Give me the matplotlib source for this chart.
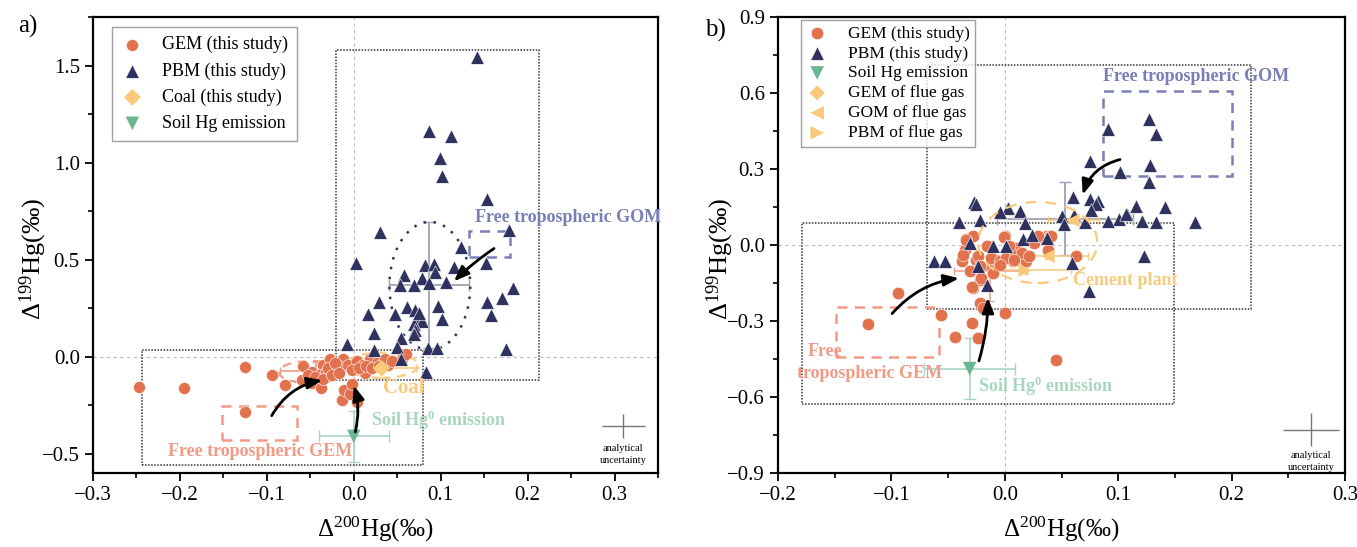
import matplotlib
matplotlib.use("Agg")
import matplotlib.pyplot as plt
from matplotlib.patches import Rectangle, Ellipse
from matplotlib.ticker import MultipleLocator

plt.rcParams['font.family'] = ['Liberation Serif', 'DejaVu Serif']
plt.rcParams['mathtext.fontset'] = 'custom'
plt.rcParams['mathtext.rm'] = 'Liberation Serif'
plt.rcParams['mathtext.it'] = 'Liberation Serif:italic'
plt.rcParams['mathtext.bf'] = 'Liberation Serif:bold'
plt.rcParams['axes.unicode_minus'] = True

# ---------------- data: panel a ----------------
gem_a_x = [-0.247, -0.195, -0.125, -0.125, -0.094, -0.079, -0.058, -0.060, -0.048, -0.038,
           -0.035, -0.027, -0.025, -0.014, -0.011, -0.004, 0.004, -0.002, -0.012, -0.017,
           -0.007, 0.004, 0.011, 0.013, 0.019, 0.027, 0.034, 0.039, 0.055, 0.060,
           -0.048, -0.040, -0.032, -0.053, -0.045, -0.030, -0.022, -0.035, -0.025, -0.017,
           -0.002, 0.006, 0.014, 0.021, 0.029, 0.036, 0.044]
gem_a_y = [-0.158, -0.163, -0.056, -0.287, -0.093, -0.145, -0.050, -0.122, -0.136, -0.163,
           -0.041, -0.014, -0.068, -0.224, -0.172, -0.194, -0.235, -0.140, -0.014, -0.050,
           -0.041, -0.023, -0.041, -0.086, -0.014, -0.032, -0.032, -0.041, -0.014, 0.013,
           -0.077, -0.095, -0.077, -0.095, -0.104, -0.059, -0.032, -0.113, -0.095, -0.086,
           -0.068, -0.059, -0.050, -0.059, -0.050, -0.014, -0.023]
pbm_a_x = [0.142, 0.087, 0.112, 0.099, 0.102, 0.153, 0.030, 0.179, 0.123, 0.002,
           0.082, 0.092, 0.152, 0.115, 0.094, 0.058, 0.078, 0.087, 0.106, 0.053,
           0.069, 0.183, 0.170, 0.153, 0.029, 0.097, 0.061, 0.070, 0.016, 0.047,
           0.158, 0.102, 0.073, 0.079, 0.069, 0.071, 0.023, 0.069, 0.054, -0.008,
           0.023, 0.050, 0.085, 0.096, 0.175, 0.054, 0.083, 0.075]
pbm_a_y = [1.545, 1.163, 1.136, 1.021, 0.932, 0.814, 0.640, 0.654, 0.566, 0.484,
           0.473, 0.475, 0.484, 0.464, 0.434, 0.421, 0.403, 0.380, 0.384, 0.367,
           0.367, 0.355, 0.303, 0.283, 0.280, 0.260, 0.254, 0.242, 0.217, 0.219,
           0.213, 0.195, 0.199, 0.183, 0.168, 0.138, 0.122, 0.115, 0.095, 0.066,
           0.034, 0.048, 0.043, 0.043, 0.039, -0.014, -0.079, 0.225]
coal_a = (0.032, -0.060)
coal_a_err = (0.040, 0.012)
soil_a = (0.000, -0.411)
soil_a_err = (0.040, 0.131)
gem_mean_a = (-0.043, -0.072)
gem_mean_a_err = (0.042, 0.045)
pbm_mean_a = (0.087, 0.368)
pbm_mean_a_err = (0.046, 0.325)

# ---------------- data: panel b ----------------
gem_b_x = [-0.121, -0.094, -0.056, -0.044, -0.029, -0.024, 0.000, 0.045, -0.022, -0.019,
           -0.028, -0.022, -0.038, -0.035, -0.034, -0.028, -0.031, -0.025, -0.013, -0.010,
           -0.008, 0.000, 0.007, 0.010, 0.016, 0.019, 0.028, 0.037, 0.039, 0.038,
           0.063, -0.001, -0.034, -0.037, -0.024, -0.012, -0.004, 0.001, 0.009, 0.015,
           0.021, 0.026, 0.029, 0.041, -0.022, -0.004, 0.008, -0.029, -0.021, -0.016, 0.004]
gem_b_y = [-0.312, -0.190, -0.276, -0.362, -0.307, -0.369, -0.269, -0.455, -0.230, -0.250,
           -0.170, -0.137, -0.064, -0.018, 0.022, 0.035, -0.104, -0.058, -0.084, -0.110,
           -0.058, 0.035, -0.064, -0.011, -0.051, -0.062, 0.022, 0.035, 0.030, -0.018,
           -0.042, 0.033, 0.020, -0.038, -0.044, -0.051, -0.064, -0.051, -0.038, -0.031,
           -0.044, 0.009, 0.035, 0.035, -0.084, -0.080, -0.060, -0.164, -0.130, -0.005, -0.005]
pbm_b_x = [0.091, 0.127, 0.133, 0.075, 0.128, 0.102, 0.127, 0.060, 0.075, 0.082,
           0.080, 0.076, 0.116, 0.141, 0.108, 0.101, 0.091, 0.121, 0.133, 0.168,
           -0.027, -0.025, 0.003, -0.004, 0.013, -0.040, -0.022, 0.018, 0.050, 0.052,
           0.061, 0.071, 0.123, 0.074, 0.059, 0.016, 0.024, 0.037, 0.001, -0.010,
           -0.031, -0.062, -0.053, -0.024, -0.016, 0.107]
pbm_b_y = [0.456, 0.499, 0.439, 0.333, 0.316, 0.289, 0.247, 0.189, 0.181, 0.174,
           0.160, 0.140, 0.154, 0.149, 0.121, 0.101, 0.095, 0.095, 0.091, 0.091,
           0.170, 0.160, 0.145, 0.130, 0.134, 0.089, 0.099, 0.088, 0.114, 0.081,
           0.118, 0.090, -0.042, -0.183, -0.071, 0.025, 0.038, 0.029, -0.002, -0.002,
           0.009, -0.064, -0.064, -0.084, -0.157, 0.121]
soil_b = (-0.031, -0.488)
soil_b_err = (0.040, 0.120)
gem_flue_b = (0.020, -0.060)
gom_flue_b_x = [0.060, 0.038]
gom_flue_b_y = [0.097, -0.044]
gom_flue_b_xerr = [0.022, 0.035]
pbm_flue_b = (0.018, -0.100)
pbm_flue_b_err = (0.040, 0.012)
gem_mean_b = (-0.013, -0.104)
gem_mean_b_err = (0.032, 0.118)
pbm_mean_b = (0.053, 0.104)
pbm_mean_b_err = (0.060, 0.144)

# ---------------- style ----------------
C_GEM = '#E2714D'
C_PBM = '#2F325E'
C_COAL = '#F9C97C'
C_SOIL = '#6AB592'
C_SOIL_L = '#A9D6C1'
C_SALMON = '#F19A86'
C_GOM = '#7A7EB8'
C_GRAY = '#A0A0B4'

fig = plt.figure(figsize=(13.57, 5.47), dpi=100)
W, H = 1357, 547
axa = fig.add_axes([93 / W, (H - 473) / H, 565 / W, 456 / H])
axb = fig.add_axes([778 / W, (H - 473) / H, 567 / W, 456 / H])


def style_axis(ax, xl, yl, xmaj, xmin, ymaj, ymin, ylab_x):
    ax.set_xlim(*xl)
    ax.set_ylim(*yl)
    ax.xaxis.set_major_locator(MultipleLocator(xmaj))
    ax.xaxis.set_minor_locator(MultipleLocator(xmin))
    ax.yaxis.set_major_locator(MultipleLocator(ymaj))
    ax.yaxis.set_minor_locator(MultipleLocator(ymin))
    ax.tick_params(which='major', direction='out', length=6, width=1.3, labelsize=15)
    ax.tick_params(which='minor', direction='out', length=3.5, width=1.2)
    for s in ax.spines.values():
        s.set_linewidth(1.6)
    ax.axhline(0, color='#BBBBBB', ls=(0, (3, 3)), lw=0.8, zorder=0)
    ax.axvline(0, color='#BBBBBB', ls=(0, (3, 3)), lw=0.8, zorder=0)
    ax.set_xlabel('Δ$^{200}$Hg(‰)', fontsize=18)
    ax.set_ylabel('Δ$^{199}$Hg(‰)', fontsize=19)
    ax.xaxis.set_label_coords(0.5, -0.092)
    ax.yaxis.set_label_coords(ylab_x, 0.47)


def box(ax, x0, x1, y0, y1, **kw):
    ax.add_patch(Rectangle((x0, y0), x1 - x0, y1 - y0, fill=False, **kw))


def arrow(ax, start, end, rad):
    ax.annotate('', xy=end, xytext=start,
                arrowprops=dict(arrowstyle='-|>,head_length=0.9,head_width=0.35',
                                color='black', lw=2.0,
                                connectionstyle=f'arc3,rad={rad}'), zorder=8)

# ======================= panel a =======================
ax = axa
style_axis(ax, (-0.3, 0.35), (-0.6, 1.75), 0.1, 0.05, 0.5, 0.25, -0.078)
box(ax, -0.020, 0.213, -0.123, 1.580, ec='#333333', ls=(0, (1, 1)), lw=1.1, zorder=1)
box(ax, -0.2435, 0.080, -0.560, 0.034, ec='#333333', ls=(0, (1, 1)), lw=1.1, zorder=1)
box(ax, -0.1515, -0.065, -0.428, -0.257, ec=C_SALMON, ls=(0, (4, 3)), lw=1.8, zorder=1)
box(ax, 0.132, 0.180, 0.511, 0.647, ec=C_GOM, ls=(0, (4, 3)), lw=1.8, zorder=1)

ax.errorbar(*pbm_mean_a, xerr=pbm_mean_a_err[0], yerr=pbm_mean_a_err[1], fmt='none',
            ecolor=C_GRAY, elinewidth=1.3, capsize=4, zorder=2)
ax.add_patch(Ellipse((0.0875, 0.364), 0.093, 0.66, fill=False, ec=C_PBM,
                     ls=(0, (1, 3)), lw=1.8, zorder=2))
ax.errorbar(*gem_mean_a, xerr=gem_mean_a_err[0], yerr=gem_mean_a_err[1], fmt='none',
            ecolor=C_SALMON, elinewidth=1.2, capsize=3, zorder=2)
ax.add_patch(Ellipse((-0.049, -0.080), 0.075, 0.115, fill=False, ec=C_SALMON,
                     ls=(0, (4, 3)), lw=1.6, zorder=2))
ax.errorbar(*coal_a, xerr=coal_a_err[0], yerr=coal_a_err[1], fmt='none',
            ecolor=C_COAL, elinewidth=1.2, capsize=3, zorder=2)
ax.add_patch(Ellipse((0.032, -0.045), 0.085, 0.13, fill=False, ec=C_COAL,
                     ls=(0, (4, 3)), lw=1.6, zorder=2))
ax.errorbar(*soil_a, xerr=soil_a_err[0], yerr=soil_a_err[1], fmt='none',
            ecolor=C_SOIL_L, elinewidth=1.2, capsize=4, zorder=2)

ax.scatter(gem_a_x, gem_a_y, s=75, marker='o', color=C_GEM, edgecolors='white',
           linewidths=0.4, zorder=4, label='GEM (this study)')
ax.scatter(pbm_a_x, pbm_a_y, s=95, marker='^', color=C_PBM, edgecolors='white',
           linewidths=0.4, zorder=5, label='PBM (this study)')
ax.scatter([coal_a[0]], [coal_a[1]], s=75, marker='D', color=C_COAL, edgecolors='none',
           zorder=5, label='Coal (this study)')
ax.scatter([soil_a[0]], [soil_a[1]], s=95, marker='v', color=C_SOIL, edgecolors='none',
           zorder=5, label='Soil Hg emission')

arrow(ax, (-0.096, -0.317), (-0.033, -0.120), -0.25)
arrow(ax, (0.001, -0.402), (-0.001, -0.135), 0.15)
arrow(ax, (0.164, 0.565), (0.113, 0.378), 0.05)

ax.text(0.139, 0.719, 'Free tropospheric GOM', color=C_GOM, fontsize=13,
        fontweight='bold', ha='left', va='center', zorder=9)
ax.text(-0.108, -0.488, 'Free tropospheric GEM', color=C_SALMON, fontsize=13,
        fontweight='bold', ha='center', va='center', zorder=9)
ax.text(0.057, -0.160, 'Coal', color=C_COAL, fontsize=15, fontweight='bold',
        ha='center', va='center', zorder=9)
ax.text(0.0196, -0.329, 'Soil Hg$^\\mathbf{0}$ emission', color=C_SOIL_L, fontsize=13,
        fontweight='bold', ha='left', va='center', zorder=9)

ax.errorbar([0.310], [-0.360], xerr=0.025, yerr=0.062, fmt='none', ecolor='#777777',
            elinewidth=1.0, capsize=0)
ax.text(0.310, -0.505, 'analytical\nuncertainty', fontsize=7.5, ha='center', va='center',
        linespacing=1.5)

leg = ax.legend(loc='upper left', bbox_to_anchor=(0.033, 0.978), borderaxespad=0,
                fontsize=13, frameon=True, fancybox=False, edgecolor='#888888',
                labelspacing=0.5, handletextpad=1.0, borderpad=0.5, handlelength=1.3,
                scatterpoints=1)
leg.get_frame().set_linewidth(1.0)

# ======================= panel b =======================
ax = axb
style_axis(ax, (-0.2, 0.3), (-0.9, 0.9), 0.1, 0.05, 0.3, 0.15, -0.074)
box(ax, -0.069, 0.217, -0.254, 0.712, ec='#333333', ls=(0, (1, 1)), lw=1.1, zorder=1)
box(ax, -0.179, 0.149, -0.627, 0.085, ec='#333333', ls=(0, (1, 1)), lw=1.1, zorder=1)
box(ax, -0.149, -0.058, -0.444, -0.246, ec=C_SALMON, ls=(0, (4, 3)), lw=1.8, zorder=1)
box(ax, 0.087, 0.200, 0.273, 0.607, ec=C_GOM, ls=(0, (4, 3)), lw=1.8, zorder=1)

ax.errorbar(*pbm_mean_b, xerr=pbm_mean_b_err[0], yerr=pbm_mean_b_err[1], fmt='none',
            ecolor=C_GRAY, elinewidth=1.3, capsize=4, zorder=2)
ax.errorbar(*gem_mean_b, xerr=gem_mean_b_err[0], yerr=gem_mean_b_err[1], fmt='none',
            ecolor=C_SALMON, elinewidth=1.1, capsize=3, zorder=2)
ax.errorbar(gom_flue_b_x, gom_flue_b_y, xerr=gom_flue_b_xerr, yerr=0.012, fmt='none',
            ecolor=C_COAL, elinewidth=1.1, capsize=3, zorder=2)
ax.errorbar(*pbm_flue_b, xerr=pbm_flue_b_err[0], yerr=pbm_flue_b_err[1], fmt='none',
            ecolor=C_COAL, elinewidth=1.1, capsize=3, zorder=2)
ax.errorbar(*soil_b, xerr=soil_b_err[0], yerr=soil_b_err[1], fmt='none',
            ecolor=C_SOIL_L, elinewidth=1.2, capsize=4, zorder=2)

ax.scatter(gem_b_x, gem_b_y, s=80, marker='o', color=C_GEM, edgecolors='white',
           linewidths=0.4, zorder=4, label='GEM (this study)')
ax.scatter(pbm_b_x, pbm_b_y, s=95, marker='^', color=C_PBM, edgecolors='white',
           linewidths=0.4, zorder=5, label='PBM (this study)')
ax.scatter([soil_b[0]], [soil_b[1]], s=95, marker='v', color=C_SOIL, edgecolors='none',
           zorder=5, label='Soil Hg emission')
ax.scatter([gem_flue_b[0]], [gem_flue_b[1]], s=60, marker='D', color=C_COAL,
           edgecolors='none', zorder=3, label='GEM of flue gas')
ax.scatter(gom_flue_b_x, gom_flue_b_y, s=95, marker='<', color=C_COAL,
           edgecolors='none', zorder=5, label='GOM of flue gas')
ax.scatter([pbm_flue_b[0]], [pbm_flue_b[1]], s=95, marker='>', color=C_COAL,
           edgecolors='none', zorder=5, label='PBM of flue gas')

ax.add_patch(Ellipse((0.029, 0.010), 0.105, 0.32, fill=False, ec=C_COAL,
                     ls=(0, (5, 4)), lw=1.6, zorder=6))

arrow(ax, (-0.101, -0.279), (-0.038, -0.130), -0.2)
arrow(ax, (-0.0235, -0.468), (-0.015, -0.197), 0.08)
arrow(ax, (0.104, 0.340), (0.068, 0.188), 0.3)

ax.text(0.087, 0.664, 'Free tropospheric GOM', color=C_GOM, fontsize=13,
        fontweight='bold', ha='left', va='center', zorder=9)
ax.text(-0.174, -0.422, 'Free', color=C_SALMON, fontsize=13,
        fontweight='bold', ha='left', va='center', zorder=9)
ax.text(-0.183, -0.508, 'tropospheric GEM', color=C_SALMON, fontsize=13,
        fontweight='bold', ha='left', va='center', zorder=9)
ax.text(-0.024, -0.557, 'Soil Hg$^\\mathbf{0}$ emission', color=C_SOIL_L, fontsize=13,
        fontweight='bold', ha='left', va='center', zorder=9)
ax.text(0.060, -0.140, 'Cement plant', color=C_COAL, fontsize=13,
        fontweight='bold', ha='left', va='center', zorder=9)

ax.errorbar([0.270], [-0.729], xerr=0.025, yerr=0.066, fmt='none', ecolor='#777777',
            elinewidth=1.0, capsize=0)
ax.text(0.270, -0.855, 'analytical\nuncertainty', fontsize=7.5, ha='center', va='center',
        linespacing=1.5)

leg = ax.legend(loc='upper left', bbox_to_anchor=(0.04, 0.993), borderaxespad=0,
                fontsize=12.5, frameon=True, fancybox=False, edgecolor='#888888',
                labelspacing=0.22, handletextpad=1.1, borderpad=0.3, handlelength=1.3,
                scatterpoints=1)
leg.get_frame().set_linewidth(1.0)

fig.text(18 / W, 1 - 26 / H, 'a)', fontsize=18, ha='left', va='center')
fig.text(705 / W, 1 - 30 / H, 'b)', fontsize=18, ha='left', va='center')

fig.savefig('out.png', dpi=100)
